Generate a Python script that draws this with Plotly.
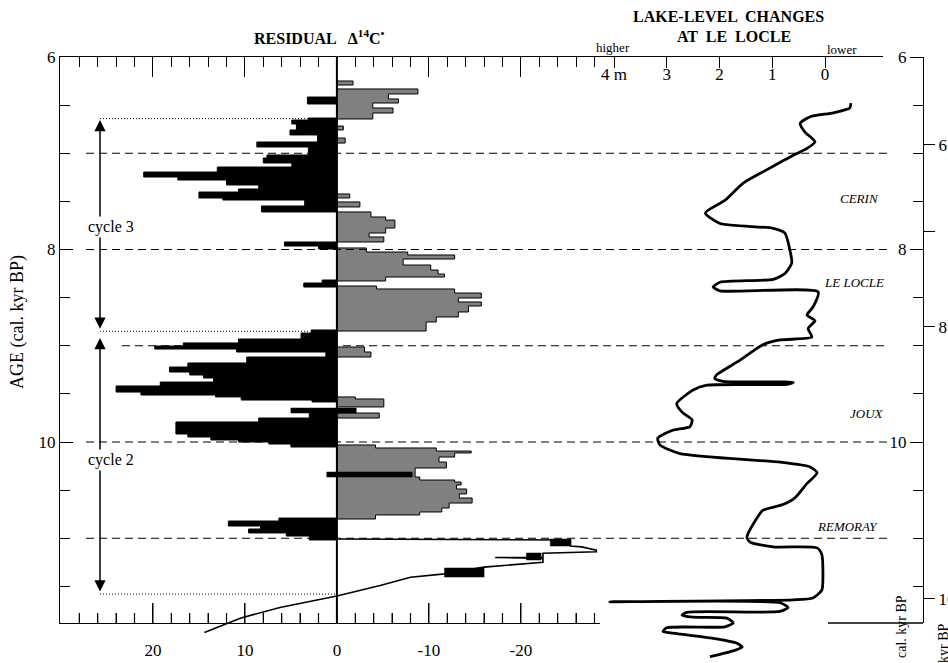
import plotly.graph_objects as go

# ---------------- data ----------------
# Residual Delta14C, positive part (black), step intervals: edges (cal kyr BP) and values (permil)
black_edges = [6.416, 6.488, 6.634, 6.655, 6.696, 6.758, 6.810, 6.883, 6.935, 7.018, 7.049, 7.101,
               7.143, 7.195, 7.247, 7.278, 7.330, 7.371, 7.403, 7.465, 7.486, 7.548, 7.610, 7.922,
               7.964, 7.995, 8.317, 8.348, 8.390, 8.836, 8.868, 8.930, 8.971, 9.003, 9.034, 9.065,
               9.117, 9.179, 9.221, 9.273, 9.304, 9.335, 9.377, 9.418, 9.481, 9.512, 9.532, 9.564,
               9.584, 9.699, 9.751, 9.792, 9.917, 9.948, 9.979, 10.000, 10.021, 10.052, 10.790,
               10.821, 10.873, 10.904, 10.945, 10.977, 11.018]
black_vals = [3.2, 0.0, 3.1, 4.9, 4.4, 5.1, 2.1, 8.7, 3.1, 7.6, 8.0,
              4.9, 13.0, 21.0, 17.3, 12.0, 8.5, 10.7, 15.0, 12.4, 3.5, 8.2, 0.0,
              5.7, 2.0, 0.0, 1.6, 3.6, 0.0, 2.8, 3.9, 10.7, 16.7, 19.8, 10.9,
              1.2, 9.8, 16.2, 18.2, 16.0, 14.5, 13.4, 19.2, 24.0, 21.3, 13.2, 10.4,
              2.7, 0.0, 3.0, 8.5, 17.5, 16.2, 13.7, 10.7, 7.4, 5.0, 0.0,
              6.3, 11.8, 8.3, 9.6, 5.5, 3.0]

# Residual Delta14C, negative part (grey)
gray_edges = [6.249, 6.291, 6.332, 6.384, 6.436, 6.478, 6.530, 6.582, 6.644, 6.717, 6.758, 6.842,
              6.894, 7.423, 7.465, 7.506, 7.558, 7.610, 7.662, 7.694, 7.777, 7.829, 7.870, 7.922,
              7.984, 8.026, 8.057, 8.099, 8.161, 8.213, 8.255, 8.286, 8.327, 8.379, 8.410, 8.452,
              8.504, 8.545, 8.587, 8.649, 8.701, 8.753, 8.847, 9.013, 9.065, 9.117, 9.532, 9.553,
              9.636, 9.699, 9.751, 10.031, 10.062, 10.094, 10.114, 10.156, 10.208, 10.270, 10.364,
              10.395, 10.416, 10.447, 10.488, 10.540, 10.582, 10.634, 10.686, 10.727, 10.758, 10.800]
gray_vals = [-1.75, 0.0, -8.8, -5.6, -6.7, -3.9, -6.1, -3.9, 0.0, -0.7, 0.0,
             -0.9, 0.0, -1.4, 0.0, -2.5, 0.0, -3.7, -5.3, -6.3, -5.3, -3.5, -5.1,
             0.0, -3.2, -7.7, -12.8, -7.2, -10.2, -11.0, -11.7, -5.3, 0.0, -4.3, -12.8,
             -15.7, -13.2, -15.7, -14.3, -13.2, -10.8, -9.7, 0.0, -3.0, -3.7, 0.0, -2.0,
             -5.1, 0.0, -4.6, 0.0, -4.2, -10.8, -14.6, -12.8, -11.1, -11.9, -8.5,
             -9.0, -12.8, -13.5, -13.0, -14.1, -13.3, -14.7, -12.2, -11.4, -9.0, -4.2]

# isolated black blocks (from / to value, top / bottom age)
block_from = [5.0, 1.1, -23.2, -20.6, -11.7]
block_to = [-2.1, -8.2, -25.4, -22.2, -16.0]
block_top = [9.647, 10.312, 11.008, 11.153, 11.309]
block_bot = [9.699, 10.364, 11.081, 11.226, 11.403]

# thin residual line at the oldest end
tail_val = [0.0, -23.2, -25.4, -25.4, -26.6, -28.2, -28.2, -22.4, -22.4, -17.2, -22.4, -22.4,
            -16.0, -11.7, -8.0, -4.7, 0.0, 6.2, 10.5, 14.4]
tail_age = [11.008, 11.018, 11.018, 11.08, 11.09, 11.124, 11.14, 11.155, 11.2, 11.2, 11.21, 11.25,
            11.30, 11.37, 11.405, 11.49, 11.60, 11.72, 11.83, 11.98]

# Lake-level changes at Le Locle (m, relative)
lake_age = [6.48, 6.53, 6.58, 6.62, 6.69, 6.78, 6.88, 6.95, 7.02, 7.17, 7.31, 7.49,
            7.62, 7.73, 7.78, 7.83, 8.02, 8.14, 8.25, 8.31, 8.34, 8.39, 8.43, 8.44,
            8.60, 8.68, 8.74, 8.82, 8.91, 8.94, 8.99, 9.15, 9.30, 9.34, 9.37, 9.38,
            9.40, 9.41, 9.46, 9.60, 9.69, 9.77, 9.84, 9.88, 9.96, 10.03, 10.12, 10.21,
            10.26, 10.32, 10.43, 10.58, 10.65, 10.71, 10.79, 10.99, 11.04, 11.09, 11.10, 11.17,
            11.33, 11.54, 11.62, 11.64, 11.66, 11.67, 11.72, 11.76, 11.77, 11.80, 11.82, 11.83,
            11.88, 11.92, 11.93, 11.97, 11.99, 12.04, 12.09, 12.13, 12.17, 12.23]
lake_level = [-0.49, -0.47, -0.16, 0.28, 0.47, 0.38, 0.19, 0.34, 0.60, 1.10, 1.55, 1.90,
              2.27, 1.99, 0.98, 0.76, 0.66, 0.63, 0.76, 0.98, 1.99, 2.12, 1.99, 0.13,
              0.23, 0.34, 0.19, 0.32, 0.25, 0.85, 1.18, 1.61, 2.05, 2.09, 1.93, 0.60,
              0.72, 2.24, 2.50, 2.81, 2.71, 2.52, 2.56, 2.90, 3.17, 3.13, 2.75, 0.85,
              0.28, 0.15, 0.34, 0.57, 0.80, 1.18, 1.29, 1.48, 1.42, 0.98, 0.15, 0.06,
              0.04, 0.06, 0.23, 0.60, 4.08, 0.85, 0.70, 0.85, 2.62, 2.71, 2.50, 1.86,
              1.74, 1.90, 3.00, 3.07, 2.81, 2.12, 1.67, 1.57, 1.74, 2.18]

event_ages = [7, 8, 9, 10, 11]
event_start_px = [86, 86, 122, 86, 86]

cycle_names = ["cycle 3", "cycle 2"]
cycle_start = [6.655, 8.92]
cycle_end = [8.84, 11.57]
cycle_label_age = [7.77, 10.19]
cycle_limits = [6.64, 8.85, 11.58]
cycle_limit_end = [3.0, 3.0, 0.0]

lake_names = ["CERIN", "LE LOCLE", "JOUX", "REMORAY"]
lake_name_age = [7.465, 8.338, 9.70, 10.88]
lake_name_level = [-0.66, -0.55, -0.80, -0.42]

d14c_ticks = [20, 10, 0, -10, -20]
lake_ticks = [0, 1, 2, 3, 4]
lake_tick_text = ["0", "1", "2", "3", "4 m"]
cal_ticks = [6, 8, 10]
c14_tick_ages = [6.914, 7.81, 8.805, 11.63]
c14_tick_text = ["6", "", "8", "10"]

assert len(black_edges) == len(black_vals) + 1
assert len(gray_edges) == len(gray_vals) + 1
assert len(lake_age) == len(lake_level)
assert len(tail_age) == len(tail_val)

# ---------------- layout geometry ----------------
W, H = 948, 663
FONT = "Liberation Serif"


def px(x):
    return x / W


def py(y):
    return 1 - y / H


AGE_TOP = 6.0
KYR_PX = 96.25
Y_TOP, Y_BOT, Y_DATA_BOT = 57, 623, 663
age_bottom = AGE_TOP + (Y_BOT - Y_TOP) / KYR_PX
age_data_bottom = AGE_TOP + (Y_DATA_BOT - Y_TOP) / KYR_PX

X_RANGE = [30.1, -28.6]
LAKE_RANGE = [(825 - 600) / 52.75, (825 - 883) / 52.75]
MAJOR_LEN, MINOR_LEN = 20, 10

x_minor = [v for v in range(-28, 30, 2) if v % 10 != 0]
y_minor = [6.5, 7, 7.5, 8.5, 9, 9.5, 10.5, 11, 11.5]


def step_xy(edges, vals):
    xs, ys = [0.0], [edges[0]]
    for i, v in enumerate(vals):
        xs.append(v)
        ys.append(edges[i])
    xs.append(0.0)
    ys.append(edges[-1])
    return xs, ys


fig = go.Figure()

gx, gy = step_xy(gray_edges, gray_vals)
fig.add_trace(go.Scatter(x=gx, y=gy, mode="lines", xaxis="x", yaxis="y2",
                         line=dict(shape="vh", color="black", width=1),
                         fill="tozerox", fillcolor="#808080", hoverinfo="skip"))
bx, by = step_xy(black_edges, black_vals)
fig.add_trace(go.Scatter(x=bx, y=by, mode="lines", xaxis="x", yaxis="y2",
                         line=dict(shape="vh", color="black", width=1),
                         fill="tozerox", fillcolor="black", hoverinfo="skip"))

rx, ry = [], []
for a, b, t, u in zip(block_from, block_to, block_top, block_bot):
    rx += [a, b, b, a, a, None]
    ry += [t, t, u, u, t, None]
fig.add_trace(go.Scatter(x=rx, y=ry, mode="lines", xaxis="x", yaxis="y2",
                         line=dict(color="black", width=0.5), fill="toself",
                         fillcolor="black", hoverinfo="skip"))

fig.add_trace(go.Scatter(x=tail_val, y=tail_age, mode="lines", xaxis="x", yaxis="y2",
                         line=dict(color="black", width=1.6), hoverinfo="skip"))

fig.add_trace(go.Scatter(x=lake_level, y=lake_age, mode="lines", xaxis="x2", yaxis="y2",
                         line=dict(color="black", width=2.8, shape="spline", smoothing=0.6),
                         hoverinfo="skip"))

# bottom tick marks of the residual scale (pointing up into the panel)
tk_x, tk_y = [], []
for vals, ln in [(d14c_ticks, MAJOR_LEN), (x_minor, MINOR_LEN)]:
    for v in vals:
        tk_x += [v, v, None]
        tk_y += [age_bottom, age_bottom - ln / KYR_PX, None]
fig.add_trace(go.Scatter(x=tk_x, y=tk_y, mode="lines", xaxis="x", yaxis="y2",
                         line=dict(color="black", width=1.2), hoverinfo="skip"))

# dummy traces so the frame axes get their own subplots
for xa, ya in [("x3", "y"), ("x4", "y"), ("x3", "y3"), ("x3", "y4")]:
    fig.add_trace(go.Scatter(x=[None], y=[None], xaxis=xa, yaxis=ya, showlegend=False))

tick_font = dict(family=FONT, size=17, color="black")

fig.update_layout(
    width=W, height=H,
    margin=dict(l=0, r=0, t=0, b=0, pad=0, autoexpand=False),
    paper_bgcolor="white", plot_bgcolor="rgba(0,0,0,0)",
    showlegend=False,
    font=dict(family=FONT, color="black"),
    # data axis for the residual curve (hidden); the visible frame is drawn by xaxis3/xaxis4
    xaxis=dict(domain=[px(60), px(600)], range=X_RANGE, anchor="y2", visible=False,
               showgrid=False, zeroline=False),
    xaxis3=dict(domain=[px(60), px(600)], range=X_RANGE, anchor="y",
                showline=True, linecolor="black", linewidth=1.3, mirror="ticks",
                ticks="inside", ticklen=MAJOR_LEN, tickwidth=1.2, tickcolor="black",
                tickmode="array", tickvals=d14c_ticks, showticklabels=False,
                minor=dict(tickmode="array", tickvals=x_minor, ticks="inside", ticklen=MINOR_LEN,
                           tickwidth=1.2, tickcolor="black", showgrid=False),
                showgrid=False, zeroline=False, automargin=False),
    # bottom tick labels
    xaxis4=dict(range=X_RANGE, anchor="free", position=py(638), overlaying="x3",
                showline=False, ticks="",
                tickmode="array", tickvals=d14c_ticks, ticktext=[str(v) for v in d14c_ticks],
                tickfont=tick_font, showgrid=False, zeroline=False, automargin=False),
    yaxis=dict(domain=[py(Y_BOT), py(Y_TOP)], range=[age_bottom, AGE_TOP], anchor="x3",
               showline=True, linecolor="black", linewidth=1.3,
               ticks="inside", ticklen=13, tickwidth=1.2, tickcolor="black",
               tickmode="array", tickvals=cal_ticks, tickfont=tick_font,
               minor=dict(tickmode="array", tickvals=y_minor, ticks="inside", ticklen=10,
                          tickwidth=1.2, tickcolor="black", showgrid=False),
               showgrid=False, zeroline=False, automargin=False),
    yaxis2=dict(domain=[py(Y_DATA_BOT), py(Y_TOP)], range=[age_data_bottom, AGE_TOP],
                anchor="x", visible=False, showgrid=False, zeroline=False),
    xaxis2=dict(domain=[px(600), px(883)], range=LAKE_RANGE, anchor="y", side="top",
                showline=True, linecolor="black", linewidth=1.3,
                ticks="inside", ticklen=11, tickwidth=1.2, tickcolor="black",
                tickmode="array", tickvals=lake_ticks, ticktext=lake_tick_text,
                ticklabelposition="inside", tickfont=tick_font,
                showgrid=False, zeroline=False, automargin=False),
    yaxis3=dict(overlaying="y", anchor="free", position=px(923), side="left",
                range=[age_bottom, AGE_TOP], showline=True, linecolor="black", linewidth=1.3,
                ticks="outside", ticklen=13, tickwidth=1.2, tickcolor="black",
                tickmode="array", tickvals=cal_ticks, tickfont=tick_font,
                minor=dict(tickmode="array", tickvals=y_minor, ticks="outside", ticklen=10,
                           tickwidth=1.2, tickcolor="black", showgrid=False),
                showgrid=False, zeroline=False, automargin=False),
    yaxis4=dict(overlaying="y", anchor="free", position=px(923), side="right",
                range=[age_bottom, AGE_TOP], showline=False,
                ticks="outside", ticklen=11, tickwidth=1.2, tickcolor="black",
                tickmode="array", tickvals=c14_tick_ages, ticktext=c14_tick_text,
                tickfont=tick_font, showgrid=False, zeroline=False, automargin=False),
)

shapes = []
# zero line of residual axis
shapes.append(dict(type="line", xref="x", yref="y domain", x0=0, x1=0, y0=0, y1=1,
                   line=dict(color="black", width=2)))
# event dashed lines
for a, s in zip(event_ages, event_start_px):
    shapes.append(dict(type="line", xref="paper", yref="y", x0=px(s), x1=px(888), y0=a, y1=a,
                       line=dict(color="black", width=1.1, dash="8px,5px")))
# dotted cycle limits
for a, e in zip(cycle_limits, cycle_limit_end):
    shapes.append(dict(type="line", xref="x", yref="y", x0=25.75, x1=e, y0=a, y1=a,
                       line=dict(color="black", width=1, dash="1px,2px")))
# bottom piece of the right-hand frame
shapes.append(dict(type="line", xref="paper", yref="paper", x0=px(828), x1=px(923),
                   y0=py(Y_BOT), y1=py(Y_BOT), line=dict(color="black", width=1.3)))
fig.update_layout(shapes=shapes)

ann = []
for s, e in zip(cycle_start, cycle_end):
    ann.append(dict(x=25.75, y=s, ax=25.75, ay=e, xref="x", yref="y", axref="x", ayref="y",
                    text="", showarrow=True, arrowhead=2, startarrowhead=2,
                    arrowside="end+start", arrowsize=1.5, arrowwidth=1.5, arrowcolor="black"))
for name, a in zip(cycle_names, cycle_label_age):
    ann.append(dict(x=24.6, y=a, xref="x", yref="y", text=name, showarrow=False,
                    xanchor="center", yanchor="middle",
                    bgcolor="white", font=dict(family=FONT, size=16, color="black"),
                    borderpad=1))
for name, a, lv in zip(lake_names, lake_name_age, lake_name_level):
    ann.append(dict(x=lv, y=a, xref="x2", yref="y", text="<i>" + name + "</i>",
                    xanchor="center", yanchor="middle",
                    showarrow=False, font=dict(family=FONT, size=13, color="black")))


def paper_text(x, y, text, size, angle=0):
    return dict(x=px(x), y=py(y), xref="paper", yref="paper", showarrow=False,
                xanchor="center", yanchor="middle", textangle=angle, text=text,
                font=dict(family=FONT, size=size, color="black"))


ann += [
    paper_text(319, 37, "<b>RESIDUAL   Δ<sup>14</sup>C<sup>•</sup></b>", 16),
    paper_text(728, 16, "<b>LAKE-LEVEL  CHANGES</b>", 16),
    paper_text(734, 36, "<b>AT  LE  LOCLE</b>", 16),
    paper_text(613, 48, "higher", 13),
    paper_text(842, 50, "lower", 13),
    paper_text(17, 322, "AGE (cal. kyr BP)", 18, -90),
    paper_text(901, 627, "cal. kyr BP", 14, -90),
    paper_text(943, 643, "kyr BP", 14, -90),
]
fig.update_layout(annotations=ann)

fig.write_html("out.html", config={"displayModeBar": False},
               post_script="document.body.style.margin='0px';")
